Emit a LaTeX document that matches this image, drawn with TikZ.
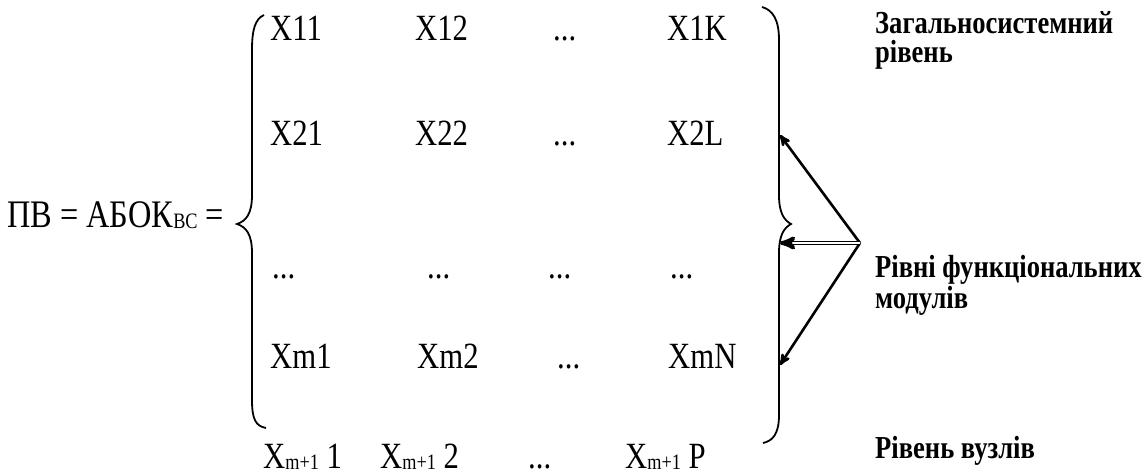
\documentclass[tikz,border=0pt]{standalone}
\usepackage{fontspec}
\setmainfont{Liberation Serif}[FakeStretch=0.83]
\usepackage{tikz}
\usetikzlibrary{arrows}

\newcommand{\lowidx}[1]{\raisebox{-1.5pt}{\fontsize{22}{22}\selectfont #1}}

\tikzset{
  entry/.style={anchor=base west, inner sep=0pt, font=\fontsize{37}{40}\selectfont},
  level/.style={anchor=base west, inner sep=0pt, font=\bfseries\fontsize{32}{34}\selectfont},
  curly/.style={line width=1.8pt},
  pointer/.style={->, >=stealth', line width=2.6pt},
}

\begin{document}
\begin{tikzpicture}[x=1pt,y=-1pt]
	\useasboundingbox (0,0) rectangle (1144,474);
	\node[entry, font=\fontsize{39}{40}\selectfont] (lhs) at (7,227) {ПВ = АБОК\lowidx{ВС} =};
	% left brace
	\draw[curly] (264,15) .. controls (255,19) and (252,30) .. (252,50)
		-- (252,195) .. controls (252,214) and (246,221) .. (237,224)
		.. controls (246,227) and (252,234) .. (252,253)
		-- (252,400) .. controls (252,420) and (256,426) .. (266,428);
	% matrix
	\node[entry] (x11) at (270,40) {X11};
	\node[entry] (x12) at (415,40) {X12};
	\node[entry] (d13) at (553,40) {...};
	\node[entry] (x1k) at (667,40) {X1K};
	\node[entry] (x21) at (270,145) {X21};
	\node[entry] (x22) at (415,145) {X22};
	\node[entry] (d23) at (553,145) {...};
	\node[entry] (x2l) at (667,145) {X2L};
	\node[entry] (d31) at (272,278) {...};
	\node[entry] (d32) at (427,278) {...};
	\node[entry] (d33) at (548,278) {...};
	\node[entry] (d34) at (670,278) {...};
	\node[entry] (xm1) at (270,368) {Xm1};
	\node[entry] (xm2) at (417,368) {Xm2};
	\node[entry] (dm3) at (557,368) {...};
	\node[entry] (xmn) at (668,368) {XmN};
	\node[entry] (xp1) at (263,468) {X\lowidx{m+1} 1};
	\node[entry] (xp2) at (380,468) {X\lowidx{m+1} 2};
	\node[entry] (dp3) at (528,468) {...};
	\node[entry] (xpp) at (625,468) {X\lowidx{m+1} P};
	% right brace
	\draw[curly] (762,7) .. controls (773,10) and (779,20) .. (779,40)
		-- (779,195) .. controls (779,213) and (784,220) .. (791,224)
		.. controls (784,228) and (779,235) .. (779,253)
		-- (779,415) .. controls (779,435) and (772,441) .. (763,443);
	% levels
	\node[level] (gen1) at (875,33) {Загальносистемний};
	\node[level] (gen2) at (875,62) {рівень};
	\node[level] (fun1) at (875,277) {Рівні функціональних};
	\node[level] (fun2) at (875,308) {модулів};
	\node[level] (nod) at (875,458) {Рівень вузлів};
	% arrows
	\coordinate (src) at (860,243);
	\coordinate (hiT) at (780,135);
	\coordinate (midT) at (780,243);
	\coordinate (loT) at (780,365);
	\draw[pointer] (src) -- (hiT);
	\draw[pointer] (src) -- (loT);
	\draw[->, >=stealth', line width=1.1pt, double, double distance=1.6pt] (src) -- (midT);
\end{tikzpicture}
\end{document}
